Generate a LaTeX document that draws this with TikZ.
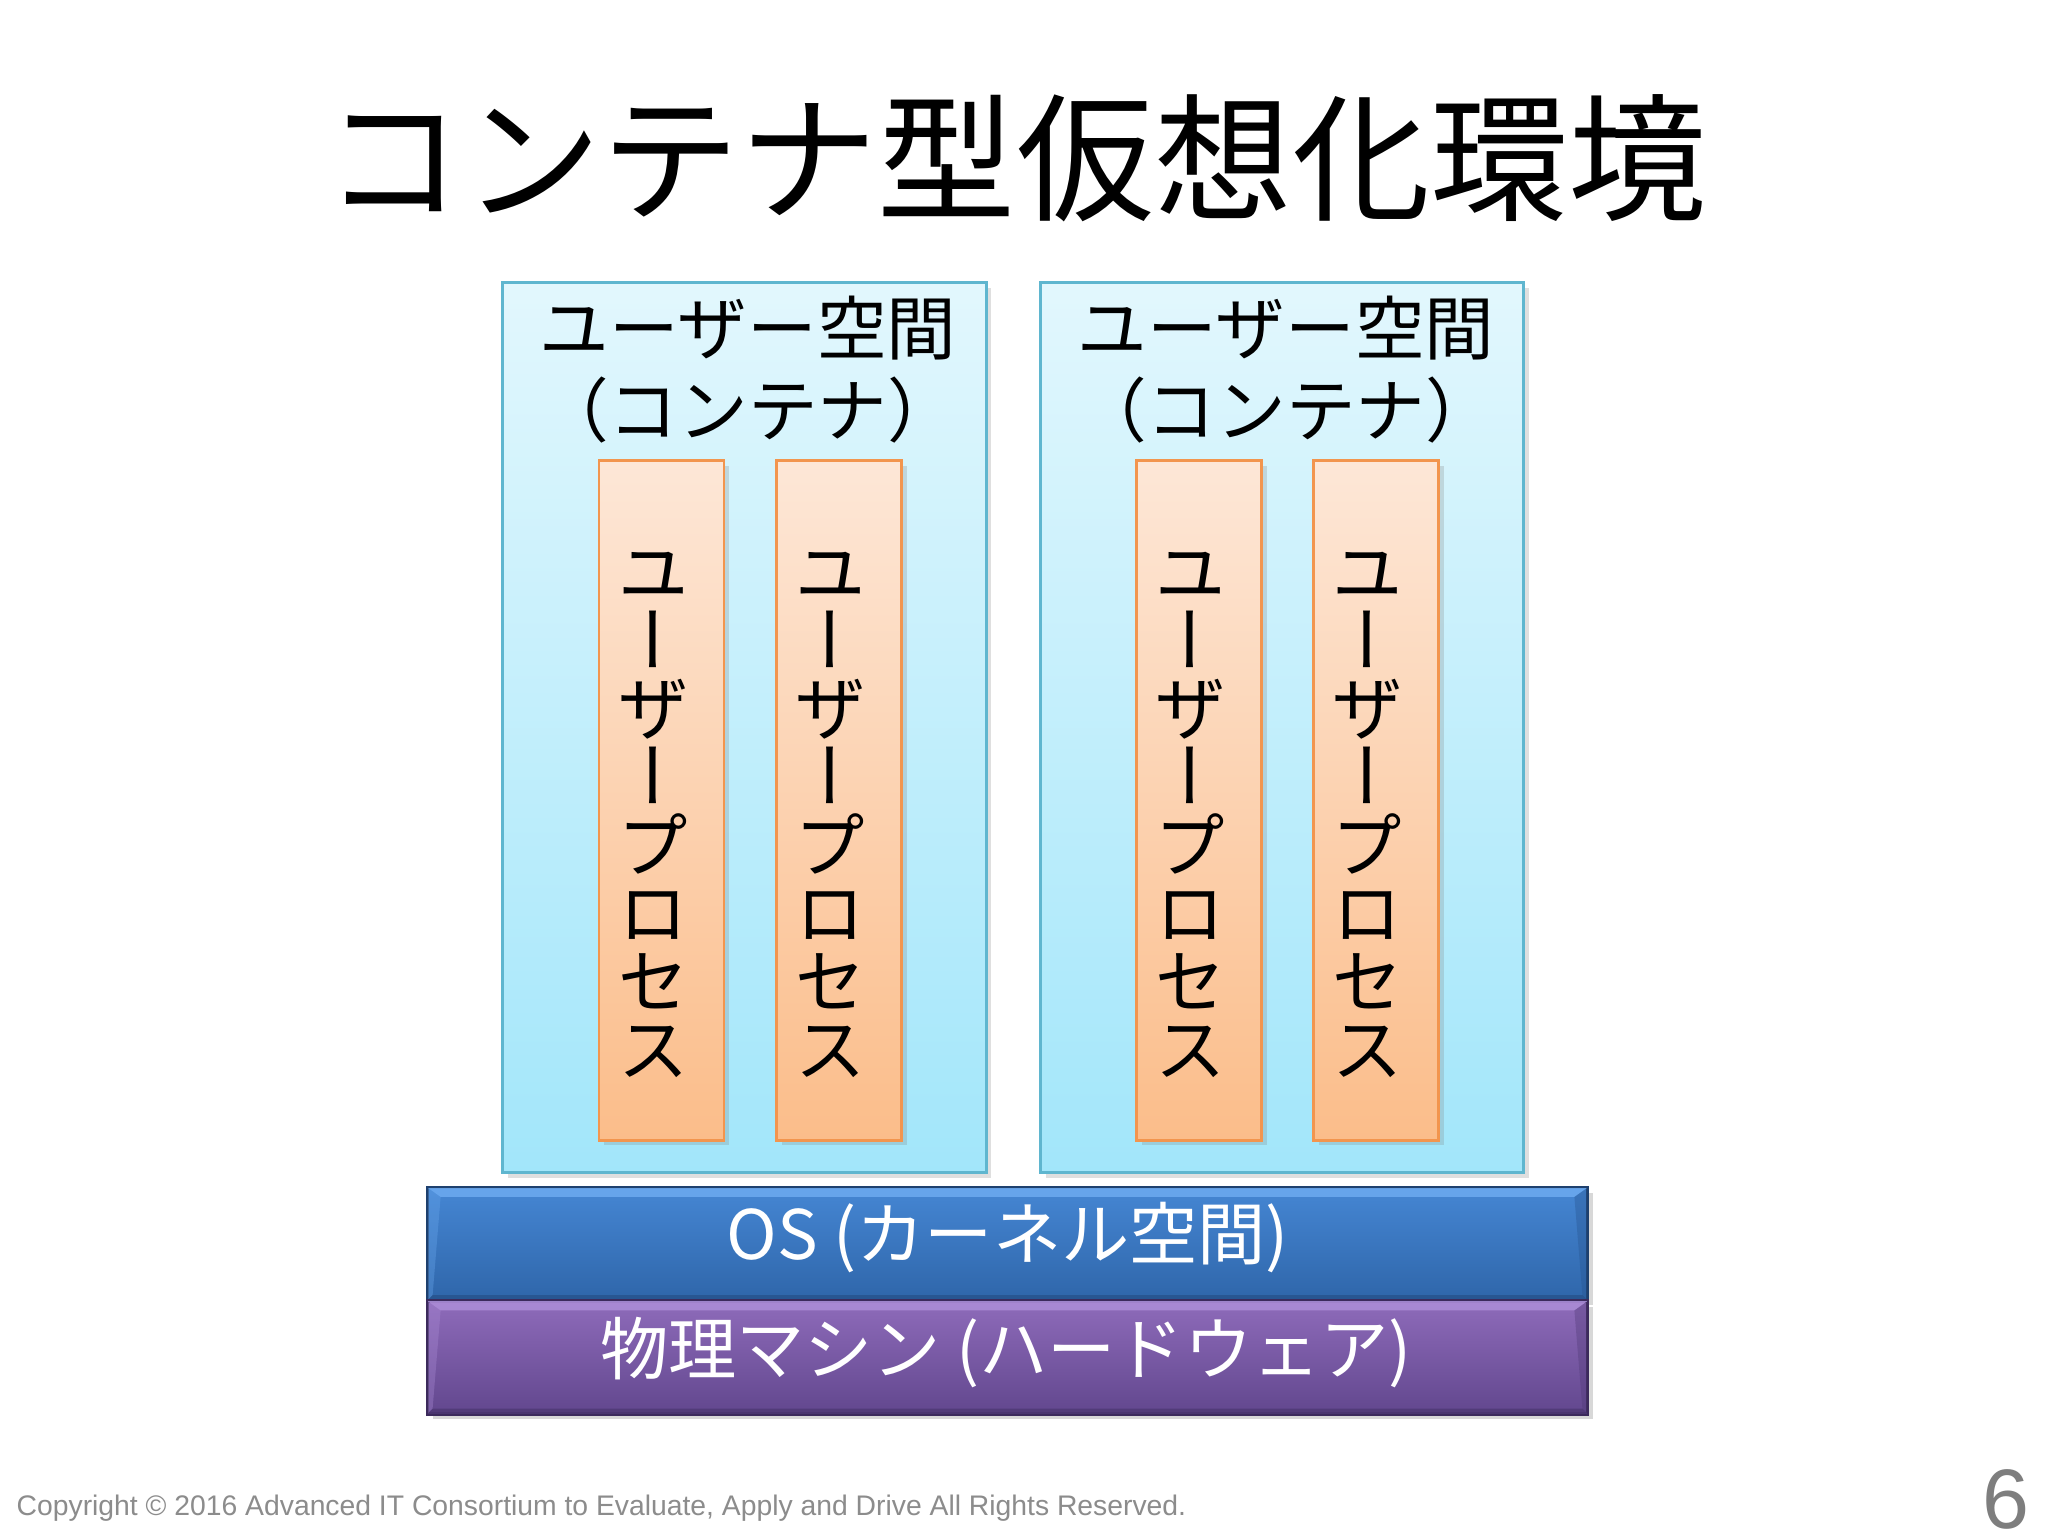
\documentclass[tikz,border=0pt]{standalone}
\usepackage{fontspec}
\setmainfont{Liberation Sans}
\newfontfamily\jp{Noto Sans CJK JP}
\newfontfamily\jpv[RawFeature=+vert]{Noto Sans CJK JP}
\usetikzlibrary{shadows,calc}
\definecolor{contline}{HTML}{5FB6CF}
\definecolor{conttop}{HTML}{E2F7FD}
\definecolor{contbot}{HTML}{A2E6FA}
\definecolor{procline}{HTML}{F2954E}
\definecolor{proctop}{HTML}{FDE7D7}
\definecolor{procbot}{HTML}{FBBD8A}
\definecolor{ostop}{HTML}{4586D3}
\definecolor{osbot}{HTML}{2F66AA}
\definecolor{oshi}{HTML}{6AA8EE}
\definecolor{oslo}{HTML}{26528C}
\definecolor{osline}{HTML}{1E406E}
\definecolor{hwtop}{HTML}{8E6BBA}
\definecolor{hwbot}{HTML}{62478E}
\definecolor{hwhi}{HTML}{AB8CD6}
\definecolor{hwlo}{HTML}{4E3874}
\definecolor{hwline}{HTML}{3C2A5C}
\definecolor{footgray}{HTML}{8C8C8C}
\tikzset{
  cont/.style={draw=contline, line width=0.8pt, top color=conttop, bottom color=contbot,
    inner sep=0pt, minimum width=4.83cm, minimum height=8.89cm,
    drop shadow={opacity=0.25, shadow xshift=1.5pt, shadow yshift=-1.5pt}},
  proc/.style={draw=procline, line width=0.8pt, top color=proctop, bottom color=procbot,
    inner sep=0pt, minimum width=1.25cm, minimum height=6.79cm,
    drop shadow={opacity=0.25, shadow xshift=1.5pt, shadow yshift=-1.5pt}},
  contlabel/.style={font=\jp\fontsize{19.8}{23.3}\selectfont, align=center, inner sep=0pt},
  proclabel/.style={font=\jpv\fontsize{20.5}{19.4}\selectfont, align=center, inner sep=0pt},
  bar/.style={draw=#1line, line width=0.6pt, top color=#1top, bottom color=#1bot,
    inner sep=0pt, minimum width=11.59cm, minimum height=1.12cm,
    drop shadow={opacity=0.3, shadow xshift=1.5pt, shadow yshift=-1.5pt}},
  bartext/.style={text=white, font=\jp\fontsize{19.4}{24}\selectfont, inner sep=0pt},
}
\begin{document}
\begin{tikzpicture}[x=0.01cm,y=-0.01cm]
\useasboundingbox[fill=white] (0,0) rectangle (2048,1536);

% title
\node[font=\jp\fontsize{39.3}{44}\selectfont, inner sep=0pt] (title) at (1016,158) {コンテナ型仮想化環境};

% containers
\node[cont] (c1) at (744.5,727.5) {};
\node[cont] (c2) at (1282,727.5) {};
\node[contlabel] (c1t) at (748,370) {ユーザー空間\\（コンテナ）};
\node[contlabel] (c2t) at (1286,370) {ユーザー空間\\（コンテナ）};

% processes
\node[proc] (p1) at (661.5,800.5) {};
\node[proc] (p2) at (839,800.5) {};
\node[proc] (p3) at (1199,800.5) {};
\node[proc] (p4) at (1376,800.5) {};
\foreach \n/\x in {p1/661.5,p2/839,p3/1199,p4/1376}{
  \node[proclabel] (\n t) at (\x-8,815) {ユ\\ー\\ザ\\ー\\プ\\ロ\\セ\\ス};
}

% OS and hardware bars
\node[bar=os] (os) at (1007.5,1244) {};
\node[bar=hw] (hw) at (1007.5,1357.5) {};
\foreach \b/\c in {os/os,hw/hw}{
  \fill[\c hi, opacity=0.9] (\b.north west) -- (\b.north east) -- ($(\b.north east)+(-14,10)$) -- ($(\b.north west)+(14,10)$) -- cycle;
  \fill[\c lo, opacity=0.8] (\b.south west) -- (\b.south east) -- ($(\b.south east)+(-6,-6)$) -- ($(\b.south west)+(6,-6)$) -- cycle;
  \fill[\c lo, opacity=0.35] (\b.north east) -- (\b.south east) -- ($(\b.south east)+(-6,-6)$) -- ($(\b.north east)+(-14,10)$) -- cycle;
  \fill[\c hi, opacity=0.35] (\b.north west) -- (\b.south west) -- ($(\b.south west)+(6,-6)$) -- ($(\b.north west)+(14,10)$) -- cycle;
  \draw[\c line, line width=0.6pt] (\b.north west) rectangle (\b.south east);
}
\node[bartext] (ost) at (1008,1238) {OS (カーネル空間)};
\node[bartext] (hwt) at (1006,1353) {物理マシン (ハードウェア)};

% footer
\node[anchor=base west, inner sep=0pt, text=footgray, font=\fontsize{8.05}{10}\selectfont] (copy) at (16,1515) {Copyright © 2016 Advanced IT Consortium to Evaluate, Apply and Drive All Rights Reserved.};
\node[anchor=base west, inner sep=0pt, text=footgray!90!black, font=\fontsize{24}{28}\selectfont] (page) at (1982,1528) {6};
\end{tikzpicture}
\end{document}
